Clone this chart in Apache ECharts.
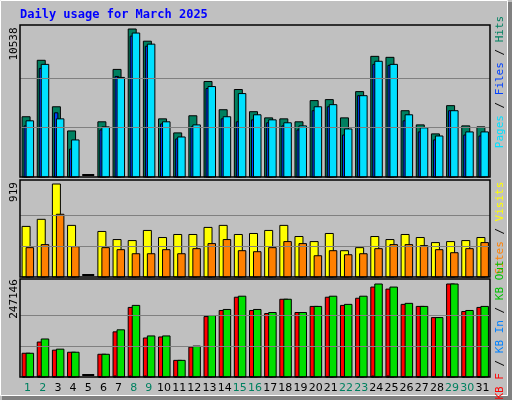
<!DOCTYPE html>
<html>
<head>
<meta charset="utf-8">
<script src="https://cdn.jsdelivr.net/npm/echarts@6/dist/echarts.min.js"></script>
<style>html,body{margin:0;padding:0;background:#c0c0c0}#main{width:512px;height:400px}</style>
</head>
<body>
<div id="main"></div>
<script>
var days = ['1','2','3','4','5','6','7','8','9','10','11','12','13','14','15','16','17','18','19','20','21','22','23','24','25','26','27','28','29','30','31'];
var weekend = [1,2,8,9,15,16,22,23,29,30];
var hits  = [4290,8310,5000,3280,0,3930,7660,10538,9670,4140,3140,4360,6800,4790,6230,4650,4210,4140,3930,5440,5510,4210,6080,8590,8520,4720,3710,3070,5080,3640,3570];
var files = [3640,7730,4570,1990,0,3350,7160,10030,9310,3780,2710,3570,6300,4140,3930,4070,3860,3640,3350,4720,5000,2990,5790,8020,7950,4000,3210,2640,4720,2990,2920];
var pages = [4000,8020,4140,2640,0,3570,7090,10250,9460,3930,2850,3710,6440,4290,5940,4430,4070,3860,3640,5000,5150,3420,5790,8240,8020,4430,3500,2920,4720,3210,3210];
var visits = [500,570,919,510,0,450,370,360,460,390,420,420,490,510,420,430,460,510,400,350,430,260,290,400,370,420,390,340,350,360,390];
var sites  = [290,320,620,300,0,290,270,230,230,270,230,280,330,370,260,250,290,350,330,210,260,220,230,280,320,320,310,270,240,280,340];
var kbF  = [63100,92900,71300,65800,0,60400,120000,184900,103700,106400,44200,79400,160600,176800,212000,176800,168700,206600,171400,187600,212000,190300,209300,239000,233600,193000,187600,157900,247146,174100,184900];
var kbIn = [63100,101000,74000,65800,0,60400,125400,190300,109100,109100,44200,82100,163300,179500,214700,179500,171400,206600,171400,187600,214700,193000,214700,247146,239000,195700,187600,157900,247146,176800,187600];
var kbOut = [900,2500,900,900,0,900,2500,2500,2500,900,900,900,900,900,900,900,900,900,900,900,900,900,900,2500,2500,900,900,900,900,900,900];
var maxHits = 10538, maxVisits = 919, maxKB = 247146;

var chart = echarts.init(document.getElementById('main'));

function barSeries(data, axis, color, x0, x1) {
  return {
    type: 'custom', xAxisIndex: axis, yAxisIndex: axis,
    data: data.map(function (v, i) { return [i, v]; }),
    renderItem: function (params, api) {
      var c = api.coord([api.value(0), 0]);
      var t = api.coord([api.value(0), api.value(1)]);
      if (api.value(1) === 0) return null;
      return {
        type: 'rect',
        shape: { x: c[0] + x0, y: t[1], width: x1 - x0, height: c[1] - t[1] },
        style: { fill: color, stroke: '#000', lineWidth: 1 }
      };
    }
  };
}
function zeroMark(axis) {
  return {
    type: 'custom', xAxisIndex: axis, yAxisIndex: axis,
    data: hits.map(function (v, i) { return [i, v]; }),
    renderItem: function (params, api) {
      if (api.value(1) !== 0) return null;
      var c = api.coord([api.value(0), 0]);
      return { type: 'rect', shape: { x: c[0] - 6, y: c[1] - 3, width: 12, height: 2 }, style: { fill: '#000' } };
    }
  };
}
function gridLines(axis, max) {
  return {
    type: 'line', xAxisIndex: axis, yAxisIndex: axis, data: [], silent: true,
    markLine: { symbol: 'none', silent: true, label: { show: false },
      lineStyle: { color: '#808080', type: 'solid', width: 1 },
      data: [{ yAxis: max / 3 }, { yAxis: max * 2 / 3 }] }
  };
}

var grids = [
  { left: 20, width: 470, top: 25, height: 152 },
  { left: 20, width: 470, top: 180, height: 97 },
  { left: 20, width: 470, top: 279, height: 98 }
];
var xAxes = [0, 1, 2].map(function (g) {
  return {
    type: 'category', gridIndex: g, data: days, boundaryGap: true,
    axisLine: { show: false }, axisTick: { show: false },
    axisLabel: g === 2 ? {
      show: true, margin: 6, interval: 0, fontFamily: 'DejaVu Sans', fontSize: 11,
      formatter: function (v) { return weekend.indexOf(+v) >= 0 ? '{w|' + v + '}' : '{n|' + v + '}'; },
      rich: { w: { color: '#008060', fontSize: 11, fontFamily: 'DejaVu Sans' }, n: { color: '#000', fontSize: 11, fontFamily: 'DejaVu Sans' } }
    } : { show: false }
  };
});
var yMax = [maxHits * 152 / 148, maxVisits * 97 / 93, maxKB * 98 / 93];
var yAxes = [0, 1, 2].map(function (g) {
  return { type: 'value', gridIndex: g, min: 0, max: yMax[g], axisLabel: { show: false },
    splitLine: { show: false }, axisLine: { show: false }, axisTick: { show: false } };
});

function vtext(x, y, text, rich) {
  return { type: 'text', x: x, y: y, rotation: Math.PI / 2,
    style: { text: text, rich: rich, align: 'center', verticalAlign: 'middle',
      font: '11px "DejaVu Sans Mono"', fill: '#000' } };
}
function frame(g) {
  return { type: 'rect', shape: { x: g.left, y: g.top, width: g.width, height: g.height },
    style: { fill: 'none', stroke: '#000', lineWidth: 1.5 }, z: 100 };
}

chart.setOption({
  backgroundColor: '#c0c0c0',
  animation: false,
  grid: grids,
  xAxis: xAxes,
  yAxis: yAxes,
  graphic: [
    { type: 'rect', shape: { x: 0.5, y: 0.5, width: 507, height: 395 }, style: { fill: 'none', stroke: '#fff', lineWidth: 1 }, z: -1 },
    { type: 'rect', shape: { x: 508, y: 2, width: 4, height: 398 }, style: { fill: '#808080' } },
    { type: 'rect', shape: { x: 2, y: 396, width: 510, height: 4 }, style: { fill: '#808080' } },
    { type: 'text', x: 20, y: 9, style: { text: 'Daily usage for March 2025', font: 'bold 12px "DejaVu Sans Mono"', fill: '#0000ff' } },
    frame(grids[0]), frame(grids[1]), frame(grids[2]),
    vtext(14, 44, String(maxHits)),
    vtext(14, 192, String(maxVisits)),
    vtext(14, 299, String(maxKB)),
    vtext(500, 82, '{a|Pages} / {b|Files} / {c|Hits}', {
      a: { fill: '#00e0ff', font: '11px "DejaVu Sans Mono"' }, b: { fill: '#0040ff', font: '11px "DejaVu Sans Mono"' }, c: { fill: '#008060', font: '11px "DejaVu Sans Mono"' } }),
    vtext(500, 228, '{a|Sites} / {b|Visits}', {
      a: { fill: '#ff8000', font: '11px "DejaVu Sans Mono"' }, b: { fill: '#ffff00', font: '11px "DejaVu Sans Mono"' } }),
    vtext(500, 330, '{a|KB F} / {b|KB In} / {c|KB Out}', {
      a: { fill: '#ff0000', font: '11px "DejaVu Sans Mono"' }, b: { fill: '#0080ff', font: '11px "DejaVu Sans Mono"' }, c: { fill: '#00c000', font: '11px "DejaVu Sans Mono"' } })
  ],
  series: [
    gridLines(0, maxHits), gridLines(1, maxVisits), gridLines(2, maxKB),
    barSeries(hits, 0, '#008060', -5.5, 2.5),
    barSeries(files, 0, '#0040ff', -3.5, 0),
    barSeries(pages, 0, '#00e0ff', -1.5, 6),
    barSeries(visits, 1, '#ffff00', -5.5, 2.5),
    barSeries(sites, 1, '#ff8000', -1.5, 6),
    barSeries(kbF, 2, '#ff0000', -5.5, 2.5),
    barSeries(kbIn, 2, '#00e000', -1.5, 6),
    barSeries(kbOut, 2, '#0040ff', -4.5, -2.5),
    zeroMark(0), zeroMark(1), zeroMark(2)
  ]
});
</script>
</body>
</html>
